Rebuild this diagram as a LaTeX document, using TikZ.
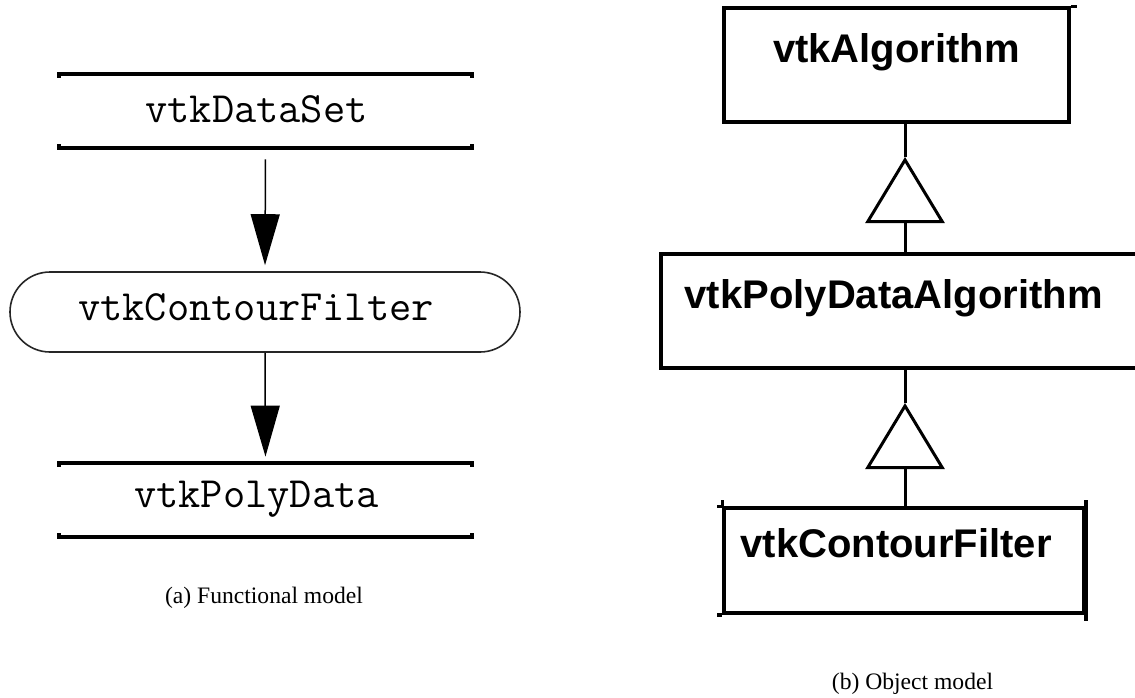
\documentclass[tikz,border=0pt]{standalone}
\usepackage{fontspec}
\setmainfont{Liberation Serif}
\newfontfamily\classfont{Liberation Sans}
\usetikzlibrary{arrows.meta}

\begin{document}
\begin{tikzpicture}[x=0.5pt, y=-0.5pt,
    dataobj/.style={minimum width=206.5pt, minimum height=37pt, inner sep=0pt,
        text height=11pt, text depth=0pt,
        font=\ttfamily\fontsize{21.6pt}{24pt}\selectfont,
        execute at begin node={\kern-9pt}},
    bar/.style={line width=2pt},
    procobj/.style={draw=black!85, line width=0.8pt, rounded corners=20pt,
        minimum width=255pt, minimum height=40pt, inner sep=0pt,
        text height=11pt, text depth=3pt,
        font=\ttfamily\fontsize{21.6pt}{24pt}\selectfont,
        execute at begin node={\kern-9pt}},
    flow/.style={line width=0.75pt, -{Triangle[length=25.5pt, width=14.5pt]}},
    classbox/.style={draw, line width=1.75pt, minimum height=57pt, inner ysep=0pt,
        text height=7pt, text depth=10pt,
        font=\classfont\bfseries\fontsize{20pt}{24pt}\selectfont},
    nudge/.style={execute at begin node={\kern#1}},
    inherit/.style={line width=1.5pt},
    gen/.style={line width=1.5pt, -{Triangle[open, length=33pt, width=39.5pt]}},
    caption/.style={font=\fontsize{11.8pt}{14pt}\selectfont}]
    \useasboundingbox (0,0) rectangle (1135,697);
    \clip (0,0) rectangle (1135,697);

    % Functional model
    \node[dataobj] (dataset) at (265.5,111) {vtkDataSet};
    \draw[bar] ([yshift=-2pt]dataset.north west) -- (dataset.north west)
        -- (dataset.north east) -- ([yshift=-2pt]dataset.north east);
    \draw[bar] ([yshift=2pt]dataset.south west) -- (dataset.south west)
        -- (dataset.south east) -- ([yshift=2pt]dataset.south east);

    \node[procobj] (contour) at (265,312) {vtkContourFilter};

    \node[dataobj, text depth=4pt] (polydata) at (265.5,500) {vtkPolyData};
    \draw[bar] ([yshift=-2pt]polydata.north west) -- (polydata.north west)
        -- (polydata.north east) -- ([yshift=-2pt]polydata.north east);
    \draw[bar] ([yshift=2pt]polydata.south west) -- (polydata.south west)
        -- (polydata.south east) -- ([yshift=2pt]polydata.south east);

    \draw[flow, shorten <=5.5pt, shorten >=3pt] (dataset.south) -- (contour.north);
    \draw[flow, shorten >=3pt] (contour.south) -- (polydata.north);

    \node[caption] (capa) at (264,597.5) {(a) Functional model};

    % Object model
    \node[classbox, minimum width=172.5pt] (algo) at (896.5,65) {vtkAlgorithm};
    \draw[inherit, line width=1.75pt] (algo.north east) -- ([xshift=3pt]algo.north east);

    \node[classbox, anchor=west, text width=230pt, inner xsep=12pt, align=left]
        (polyalgo) at (659,311) {vtkPolyDataAlgorithm};

    \node[classbox, minimum width=180pt, minimum height=52.5pt, nudge=-8pt]
        (filter) at (904,560.5) {vtkContourFilter};
    \draw[inherit, line width=1.75pt] ([xshift=-2.5pt]filter.north west)
        -- (filter.north west) -- ([yshift=3pt]filter.north west);
    \draw[inherit, line width=1.75pt] ([yshift=3pt]filter.north east)
        -- ([yshift=-3pt]filter.south east);
    \draw[inherit, line width=1.75pt] ([xshift=-2.5pt]filter.south west)
        -- (filter.south west);

    % generalisation triangles
    \coordinate (tri1) at (905,157);
    \coordinate (tri2) at (905,403);
    \draw[gen] (polyalgo.north -| tri1) -- (tri1);
    \draw[inherit] (tri1) -- (algo.south -| tri1);
    \draw[gen] (filter.north -| tri2) -- (tri2);
    \draw[inherit] (tri2) -- (polyalgo.south -| tri2);

    \node[caption] (capb) at (912.5,684) {(b) Object model};
\end{tikzpicture}
\end{document}
